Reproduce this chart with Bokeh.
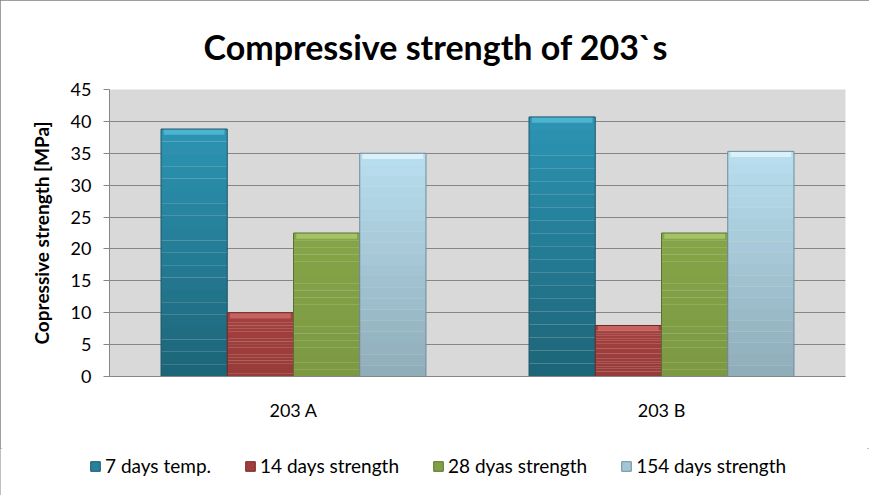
from bokeh.plotting import figure
from bokeh.layouts import column, row
from bokeh.models import (ColumnDataSource, FactorRange, Legend, LegendItem, Title,
                          Range1d, SingleIntervalTicker)
from bokeh.transform import dodge
from bokeh.embed import file_html
from bokeh.resources import INLINE

categories = ["203 A", "203 B"]
series_names = ["7 days temp.", "14 days strength", "28 dyas strength", "154 days strength"]
d7 = [38.8, 40.7]
d14 = [10.0, 8.0]
d28 = [22.5, 22.5]
d154 = [35.0, 35.3]
y_ticks_interval = 5
title_text = "Compressive strength of 203`s"
y_label = "Copressive strength [MPa]"

fills = ["#26819E", "#A03E3C", "#81A045", "#A2C6D5"]
tops = ["#2C95B3", "#A5403E", "#85A548", "#B8DFF0"]
bottoms = ["#1D6478", "#983B39", "#7C9942", "#8FACB9"]
bevels = ["#55BBD8", "#CF6C68", "#AACA6E", "#E2F5FC"]
lines = ["#1B5568", "#6E2A28", "#5A7030", "#6E8C99"]
offsets = [-0.27, -0.09, 0.09, 0.27]
keys = ["d7", "d14", "d28", "d154"]
series_vals = [d7, d14, d28, d154]


def mix(c1, c2, t):
    a = [int(c1[i:i + 2], 16) for i in (1, 3, 5)]
    b = [int(c2[i:i + 2], 16) for i in (1, 3, 5)]
    return "#%02x%02x%02x" % tuple(round(x + (y - x) * t) for x, y in zip(a, b))


source = ColumnDataSource(dict(cat=categories, d7=d7, d14=d14, d28=d28, d154=d154))

p = figure(width=869, height=448, x_range=FactorRange(*categories), y_range=Range1d(0, 45),
           output_backend="svg", toolbar_location=None, title=None)
p.min_border_left = 109
p.min_border_right = 24
p.min_border_top = 88
p.min_border_bottom = 72
p.background_fill_color = "#D9D9D9"
p.border_fill_color = "white"
p.outline_line_color = None

p.xgrid.grid_line_color = None
p.ygrid.grid_line_color = "#868686"
p.ygrid.grid_line_width = 1

N = 20
bevel = 0.9
for vals, off, top_c, bot_c, bev_c, lc in zip(series_vals, offsets, tops, bottoms, bevels, lines):
    xs = dodge("cat", off, range=p.x_range)
    # vertical shading of each bar, drawn from its value
    for k in range(N):
        src = ColumnDataSource(dict(cat=categories,
                                    b=[v * k / N for v in vals],
                                    t=[v * (k + 1) / N for v in vals]))
        p.vbar(x=xs, bottom="b", top="t", width=0.18, source=src,
               fill_color=mix(bot_c, top_c, (k + 0.5) / N), line_color=None)
    hs = ColumnDataSource(dict(cat=categories, b=[v - bevel for v in vals], t=vals))
    p.vbar(x=xs, bottom="b", top="t", width=0.165, source=hs,
           fill_color=bev_c, fill_alpha=0.8, line_color=None)
    os_ = ColumnDataSource(dict(cat=categories, t=vals))
    p.vbar(x=xs, top="t", width=0.18, source=os_, fill_color=None, line_color=lc, line_width=1)

p.yaxis.ticker = SingleIntervalTicker(interval=y_ticks_interval)
p.yaxis.minor_tick_line_color = None
p.yaxis.major_tick_in = 0
p.yaxis.major_tick_out = 6
p.yaxis.axis_line_color = "#868686"
p.yaxis.major_tick_line_color = "#868686"
p.yaxis.major_label_standoff = 12
p.yaxis.major_label_text_font = "Lato"
p.yaxis.major_label_text_font_size = "18px"
p.yaxis.major_label_text_color = "black"
p.yaxis.axis_label = y_label
p.yaxis.axis_label_text_font = "Lato"
p.yaxis.axis_label_text_font_style = "bold"
p.yaxis.axis_label_text_font_size = "19px"
p.yaxis.axis_label_text_color = "black"
p.yaxis.axis_label_standoff = 15

p.xaxis.major_tick_line_color = None
p.xaxis.minor_tick_line_color = None
p.xaxis.axis_line_color = "#868686"
p.xaxis.major_label_standoff = 16
p.xaxis.major_label_text_font = "Lato"
p.xaxis.major_label_text_font_size = "18px"
p.xaxis.major_label_text_color = "black"

title = Title(text=title_text, align="left", offset=94, standoff=46,
              text_font="Lato", text_font_style="bold", text_font_size="34px",
              text_color="black")
p.add_layout(title, "above")

# legend strip below the chart (its bars fall outside its own view; only the key shows)
lg = figure(width=869, height=47, x_range=FactorRange(*categories), y_range=Range1d(100, 101),
            output_backend="svg", toolbar_location=None,
            x_axis_location=None, y_axis_location=None, title=None)
lg.min_border_left = 0
lg.min_border_right = 0
lg.min_border_top = 0
lg.min_border_bottom = 0
lg.outline_line_color = None
lg.grid.visible = False
lg.background_fill_color = "white"
lg.border_fill_color = "white"

items = []
for name, key, fc, lc in zip(series_names, keys, fills, lines):
    r = lg.vbar(x="cat", top=key, width=0.18, source=source,
                fill_color=fc, line_color=lc, line_width=1)
    items.append(LegendItem(label=name, renderers=[r]))

legend = Legend(items=items, orientation="horizontal", location=(89, 18),
                glyph_width=12, glyph_height=12, label_standoff=4, spacing=33,
                padding=0, margin=0, border_line_color=None, background_fill_alpha=0,
                label_text_font="Lato", label_text_font_size="19px", label_text_color="black")
lg.add_layout(legend)

layout = column(p, row(lg), spacing=0,
                styles={"outline": "2px solid #7F7F7F", "outline-offset": "-2px"})

open("out.html", "w").write(file_html(layout, INLINE))
